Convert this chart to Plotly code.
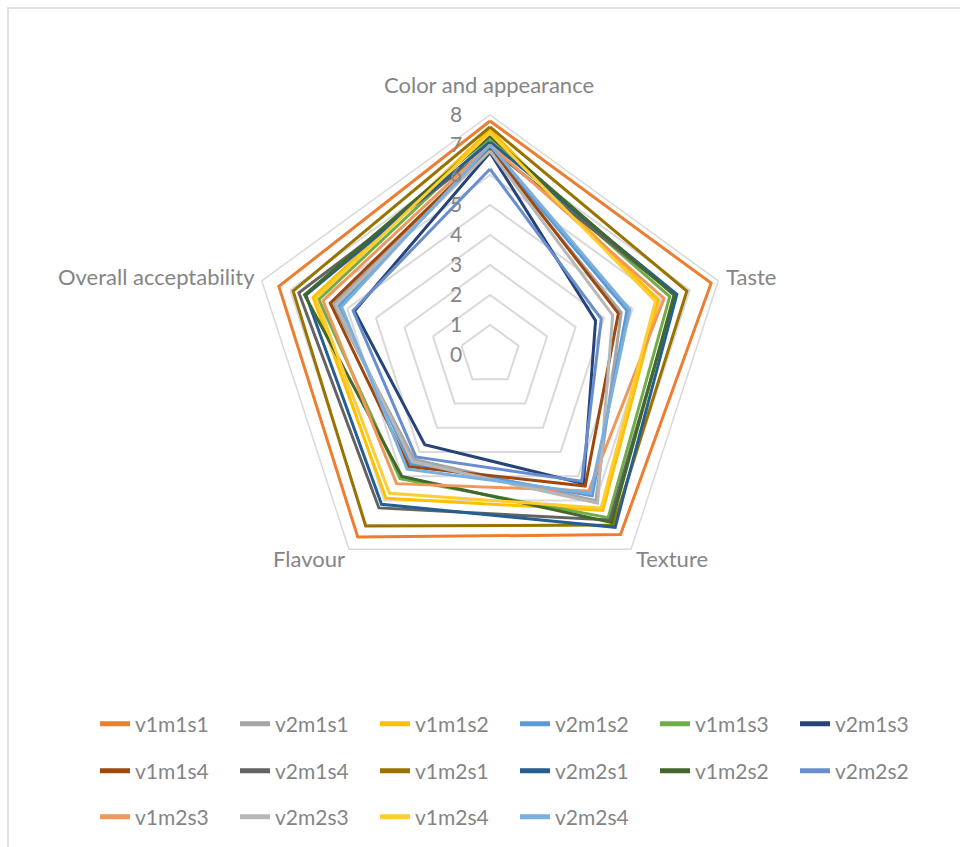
import plotly.graph_objects as go

categories = ["Color and appearance", "Taste", "Texture", "Flavour", "Overall acceptability"]

series_names = ["v1m1s1", "v2m1s1", "v1m1s2", "v2m1s2", "v1m1s3", "v2m1s3",
                "v1m1s4", "v2m1s4", "v1m2s1", "v2m2s1", "v1m2s2", "v2m2s2",
                "v1m2s3", "v2m2s3", "v1m2s4", "v2m2s4"]

v1m1s1 = [7.8, 7.75, 7.4, 7.5, 7.4]
v2m1s1 = [6.8, 4.6, 6.0, 4.3, 5.5]
v1m1s2 = [7.5, 5.9, 6.4, 5.9, 6.2]
v2m1s2 = [6.9, 4.8, 5.8, 4.5, 5.3]
v1m1s3 = [7.2, 6.3, 6.7, 5.1, 6.0]
v2m1s3 = [6.75, 3.7, 5.3, 3.7, 4.75]
v1m1s4 = [6.9, 4.5, 5.4, 4.6, 5.6]
v2m1s4 = [6.9, 6.5, 6.8, 6.3, 6.7]
v1m2s1 = [7.6, 6.9, 7.0, 7.05, 6.9]
v2m2s1 = [7.1, 6.55, 7.1, 6.15, 6.45]
v1m2s2 = [7.3, 6.45, 6.9, 5.0, 6.5]
v2m2s2 = [6.2, 3.9, 5.2, 4.2, 4.8]
v1m2s3 = [7.0, 6.1, 5.6, 5.3, 5.85]
v2m2s3 = [6.8, 4.3, 6.1, 4.4, 5.4]
v1m2s4 = [7.4, 5.8, 6.3, 5.7, 6.1]
v2m2s4 = [7.0, 4.9, 5.7, 4.7, 5.2]

series_values = [v1m1s1, v2m1s1, v1m1s2, v2m1s2, v1m1s3, v2m1s3,
                 v1m1s4, v2m1s4, v1m2s1, v2m2s1, v1m2s2, v2m2s2,
                 v1m2s3, v2m2s3, v1m2s4, v2m2s4]

colors = ["#ED7D31", "#A5A5A5", "#FFC000", "#5B9BD5", "#70AD47", "#264478",
          "#9E480E", "#636363", "#997300", "#255E91", "#43682B", "#698ED0",
          "#F1975A", "#B7B7B7", "#FFCD33", "#7CAFDD"]

radial_ticks = [0, 1, 2, 3, 4, 5, 6, 7, 8]

TEXT = "#858585"
FONT = "Lato"

W, H = 960, 847
cx, cy, R = 490, 355, 240

# pixel centres of the category labels (layout only)
label_pos = [(489, 84), (751, 276), (672, 558), (309, 558), (156, 276)]

fig = go.Figure()
for i, (name, vals, col) in enumerate(zip(series_names, series_values, colors)):
    leg = ["legend", "legend2", "legend3"][i // 6]
    fig.add_trace(go.Scatterpolar(
        r=vals + vals[:1],
        theta=categories + categories[:1],
        mode="lines",
        name=name,
        line=dict(color=col, width=3),
        legend=leg,
    ))

legend_common = dict(
    orientation="h",
    xanchor="left",
    yanchor="middle",
    x=95 / W,
    entrywidth=95,
    entrywidthmode="pixels",
    font=dict(family=FONT, size=21, color=TEXT),
    bgcolor="rgba(0,0,0,0)",
    itemsizing="constant",
)

annotations = [
    dict(text=cat, x=px / W, y=1 - py / H, xref="paper", yref="paper",
         xanchor="center", yanchor="middle", showarrow=False,
         font=dict(family=FONT, size=22, color=TEXT))
    for cat, (px, py) in zip(categories, label_pos)
]

fig.update_layout(
    width=W, height=H,
    margin=dict(l=0, r=0, t=0, b=0, autoexpand=False),
    paper_bgcolor="white",
    font=dict(family=FONT, size=21, color=TEXT),
    polar=dict(
        domain=dict(x=[(cx - R) / W, (cx + R) / W], y=[1 - (cy + R) / H, 1 - (cy - R) / H]),
        gridshape="linear",
        bgcolor="white",
        radialaxis=dict(
            range=[0, 8],
            tickvals=radial_ticks,
            ticktext=[str(t) for t in radial_ticks],
            angle=90,
            side="counterclockwise",
            tickangle=90,
            showline=False,
            ticks="outside",
            ticklen=20,
            tickcolor="rgba(0,0,0,0)",
            gridcolor="#D9D9D9",
            gridwidth=1.5,
            tickfont=dict(family=FONT, size=21, color=TEXT),
        ),
        angularaxis=dict(
            rotation=90,
            direction="clockwise",
            showticklabels=False,
            showgrid=False,
            showline=True,
            linecolor="#D9D9D9",
            linewidth=1.5,
            ticks="",
        ),
    ),
    annotations=annotations,
    legend=dict(legend_common, y=1 - 724 / H),
    legend2=dict(legend_common, y=1 - 771 / H),
    legend3=dict(legend_common, y=1 - 817 / H),
    shapes=[dict(type="rect", xref="paper", yref="paper",
                 x0=8 / W, x1=1.02, y0=-0.02, y1=1 - 8 / H,
                 line=dict(color="#D9D9D9", width=1.5))],
)

fig.write_html("out.html")
